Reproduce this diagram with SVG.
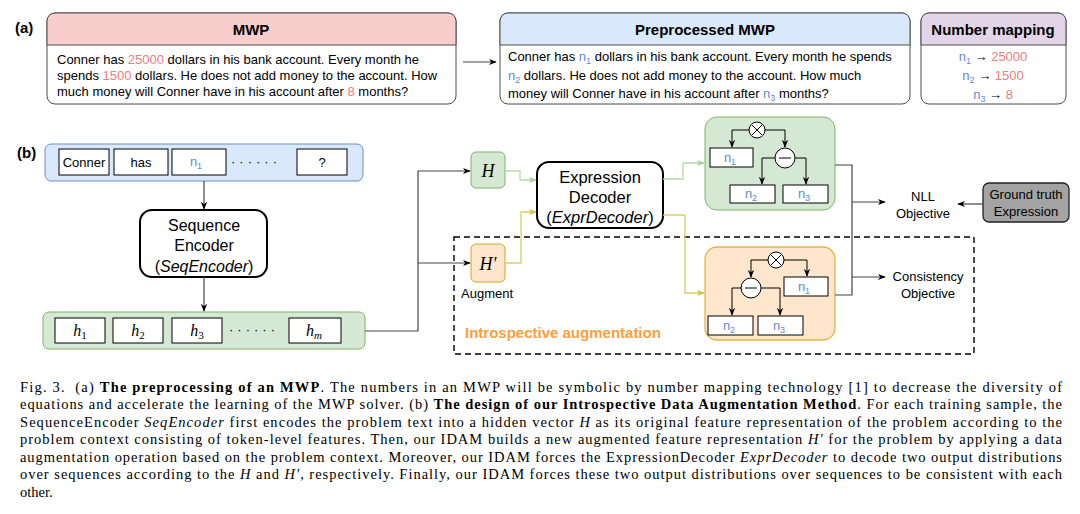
<svg xmlns="http://www.w3.org/2000/svg" width="1080" height="514" viewBox="0 0 1080 514">
<style>
text{font-family:"Liberation Sans",Arial,sans-serif;fill:#000}
.lbl{font-size:15px;font-weight:bold}
.hdr{font-size:15px;font-weight:bold;text-anchor:middle}
.body{font-size:13px}
.red{fill:#f07c7c}
.blu{fill:#5f8ad6}
.tok{fill:#fff;stroke:#000;stroke-width:1}
.math{font-family:"Liberation Serif","Times New Roman",serif;font-style:italic}
.mid{text-anchor:middle}
.ln{fill:none;stroke:#000;stroke-width:1}
.lg{fill:none;stroke:#b7d9a8;stroke-width:1.3}
.yl{fill:none;stroke:#d8cf5a;stroke-width:1.3}
.gr{fill:none;stroke:#444;stroke-width:1.2}
.cap{font-family:"Liberation Serif","Times New Roman",serif;font-size:14.5px}
.b{font-weight:bold}
.i{font-style:italic}
</style>
<defs>
<marker id="ah" viewBox="0 0 10 10" refX="9" refY="5" markerWidth="8" markerHeight="8" markerUnits="userSpaceOnUse" orient="auto"><path d="M0,1 L10,5 L0,9 L3,5 z" fill="#000"/></marker>
<marker id="ahg" viewBox="0 0 10 10" refX="9" refY="5" markerWidth="8" markerHeight="8" markerUnits="userSpaceOnUse" orient="auto"><path d="M0,1 L10,5 L0,9 L3,5 z" fill="#a9cf98"/></marker>
<marker id="ahy" viewBox="0 0 10 10" refX="9" refY="5" markerWidth="8" markerHeight="8" markerUnits="userSpaceOnUse" orient="auto"><path d="M0,1 L10,5 L0,9 L3,5 z" fill="#cfc24a"/></marker>
</defs>
<rect width="1080" height="514" fill="#fff"/>

<text class="lbl" x="15" y="33">(a)</text>
<text class="lbl" x="17" y="158">(b)</text>

<g id="mwp">
<rect x="47" y="13" width="409" height="91" rx="8" fill="#fff" stroke="#4d4d4d"/>
<path d="M47,45 V21 a8,8 0 0 1 8,-8 H448 a8,8 0 0 1 8,8 V45 Z" fill="#f8cecc" stroke="#4d4d4d"/>
<text class="hdr" x="251" y="35">MWP</text>
<text class="body" x="57" y="64">Conner has <tspan class="red">25000</tspan> dollars in his bank account. Every month he</text>
<text class="body" x="57" y="80">spends <tspan class="red">1500</tspan> dollars. He does not add money to the account. How</text>
<text class="body" x="57" y="96">much money will Conner have in his account after <tspan class="red">8</tspan> months?</text>
</g>

<g id="preprocessed">
<rect x="500" y="13" width="410" height="91" rx="8" fill="#fff" stroke="#4d4d4d"/>
<path d="M500,45 V21 a8,8 0 0 1 8,-8 H902 a8,8 0 0 1 8,8 V45 Z" fill="#dae8fc" stroke="#4d4d4d"/>
<text class="hdr" x="705" y="35">Preprocessed MWP</text>
<text class="body" x="508" y="61">Conner has <tspan class="blu">n<tspan font-size="9" dy="3">1</tspan></tspan><tspan dy="-3"> dollars in his bank account. Every month he spends</tspan></text>
<text class="body" x="508" y="80"><tspan class="blu">n<tspan font-size="9" dy="3">2</tspan></tspan><tspan dy="-3"> dollars. He does not add money to the account. How much</tspan></text>
<text class="body" x="508" y="98">money will Conner have in his account after <tspan class="blu">n<tspan font-size="9" dy="3">3</tspan></tspan><tspan dy="-3"> months?</tspan></text>
</g>

<g id="number-mapping">
<rect x="921" y="13" width="145" height="91" rx="8" fill="#fff" stroke="#4d4d4d"/>
<path d="M921,45 V21 a8,8 0 0 1 8,-8 H1058 a8,8 0 0 1 8,8 V45 Z" fill="#e1d5e7" stroke="#4d4d4d"/>
<text class="hdr" x="993" y="35">Number mapping</text>
<text class="body mid" x="993" y="61"><tspan class="blu">n<tspan font-size="9" dy="3">1</tspan></tspan><tspan dy="-3"> → </tspan><tspan class="red">25000</tspan></text>
<text class="body mid" x="993" y="80"><tspan class="blu">n<tspan font-size="9" dy="3">2</tspan></tspan><tspan dy="-3"> → </tspan><tspan class="red">1500</tspan></text>
<text class="body mid" x="993" y="99"><tspan class="blu">n<tspan font-size="9" dy="3">3</tspan></tspan><tspan dy="-3"> → </tspan><tspan class="red">8</tspan></text>
</g>

<g id="token-sequence">
<rect x="45" y="144" width="318" height="37" rx="6" fill="#dae8fc" stroke="#6c8ebf"/>
<rect class="tok" x="59" y="149" width="50" height="26"/>
<text class="body mid" x="84" y="167">Conner</text>
<rect class="tok" x="114" y="149" width="54" height="26"/>
<text class="body mid" x="141" y="167">has</text>
<rect class="tok" x="172" y="149" width="54" height="26"/>
<text class="body mid blu" x="196" y="166">n<tspan font-size="9" dy="3">1</tspan></text>
<text class="body" x="231" y="166" letter-spacing="4">······</text>
<rect class="tok" x="297" y="149" width="50" height="26"/>
<text class="body mid" x="322" y="167">?</text>
</g>

<g id="seq-encoder">
<rect x="140" y="210" width="127" height="67" rx="12" fill="#fff" stroke="#000" stroke-width="2"/>
<text class="mid" x="204" y="231" font-size="16">Sequence</text>
<text class="mid" x="204" y="251" font-size="16">Encoder</text>
<text class="mid" x="204" y="272" font-size="16">(<tspan font-style="italic">SeqEncoder</tspan>)</text>
</g>

<g id="hidden-sequence">
<rect x="43" y="312" width="322" height="37" rx="6" fill="#d5e8d4" stroke="#82b366"/>
<rect class="tok" x="55" y="318" width="50" height="25"/>
<text class="math mid" x="80" y="336" font-size="16">h<tspan font-size="11" dy="3" font-style="normal">1</tspan></text>
<rect class="tok" x="113" y="318" width="50" height="25"/>
<text class="math mid" x="138" y="336" font-size="16">h<tspan font-size="11" dy="3" font-style="normal">2</tspan></text>
<rect class="tok" x="172" y="318" width="50" height="25"/>
<text class="math mid" x="197" y="336" font-size="16">h<tspan font-size="11" dy="3" font-style="normal">3</tspan></text>
<text class="body" x="229" y="334" letter-spacing="4">······</text>
<rect class="tok" x="289" y="318" width="52" height="25"/>
<text class="math mid" x="314" y="336" font-size="16">h<tspan font-size="11" dy="3">m</tspan></text>
</g>

<g id="introspective-augmentation">
<rect x="454" y="237" width="520" height="117" fill="none" stroke="#000" stroke-width="1.4" stroke-dasharray="6,4"/>
<text x="465" y="338" font-size="15" font-weight="bold" style="fill:#f9a03c">Introspective augmentation</text>
</g>

<g id="H">
<rect x="471" y="152" width="34" height="36" rx="5" fill="#d5e8d4" stroke="#82b366"/>
<text class="math mid" x="488" y="177" font-size="18">H</text>
</g>

<g id="H-prime">
<rect x="471" y="244" width="34" height="38" rx="5" fill="#ffe6cc" stroke="#d6a41e"/>
<text class="math mid" x="488" y="270" font-size="18">H′</text>
<text class="body" x="461" y="298">Augment</text>
</g>

<g id="expr-decoder">
<rect x="537" y="162" width="126" height="66" rx="12" fill="#fff" stroke="#000" stroke-width="2"/>
<text class="mid" x="600" y="183" font-size="16.5">Expression</text>
<text class="mid" x="600" y="203" font-size="16.5">Decoder</text>
<text class="mid" x="600" y="223" font-size="16.5">(<tspan font-style="italic">ExprDecoder</tspan>)</text>
</g>

<g id="tree-original">
<rect x="705" y="117" width="130" height="93" rx="12" fill="#d5e8d4" stroke="#82b366"/>
<circle cx="757" cy="130" r="8" fill="#fff" stroke="#000"/>
<path class="ln" d="M752,125 L762,135 M762,125 L752,135"/>
<circle cx="785" cy="158" r="10" fill="#fff" stroke="#000"/>
<path class="ln" d="M779,158 H791"/>
<rect class="tok" x="710" y="148" width="43" height="19"/>
<text class="body mid blu" x="730" y="162">n<tspan font-size="9" dy="3">1</tspan></text>
<rect class="tok" x="730" y="185" width="45" height="18"/>
<text class="body mid blu" x="751" y="198">n<tspan font-size="9" dy="3">2</tspan></text>
<rect class="tok" x="783" y="185" width="45" height="18"/>
<text class="body mid blu" x="804" y="198">n<tspan font-size="9" dy="3">3</tspan></text>
</g>

<g id="tree-augmented">
<rect x="705" y="247" width="130" height="93" rx="12" fill="#ffe6cc" stroke="#e0b848" stroke-width="1.3"/>
<circle cx="776" cy="260" r="8" fill="#fff" stroke="#000"/>
<path class="ln" d="M771,255 L781,265 M781,255 L771,265"/>
<circle cx="751" cy="288" r="10" fill="#fff" stroke="#000"/>
<path class="ln" d="M745,288 H757"/>
<rect class="tok" x="784" y="277" width="44" height="19"/>
<text class="body mid blu" x="804" y="291">n<tspan font-size="9" dy="3">1</tspan></text>
<rect class="tok" x="708" y="316" width="45" height="19"/>
<text class="body mid blu" x="729" y="330">n<tspan font-size="9" dy="3">2</tspan></text>
<rect class="tok" x="758" y="316" width="45" height="19"/>
<text class="body mid blu" x="779" y="330">n<tspan font-size="9" dy="3">3</tspan></text>
</g>

<g id="nll-objective">
<text class="body mid" x="923" y="201">NLL</text>
<text class="body mid" x="923" y="218">Objective</text>
</g>

<g id="consistency-objective">
<text class="body mid" x="928" y="281">Consistency</text>
<text class="body mid" x="928" y="298">Objective</text>
</g>

<g id="ground-truth">
<rect x="983" y="183" width="86" height="39" rx="6" fill="#a3a3a3" stroke="#222" stroke-width="1.3"/>
<text class="body mid" x="1026" y="199">Ground truth</text>
<text class="body mid" x="1026" y="216">Expression</text>
</g>

<g id="connectors">
<path class="gr" d="M463,62 H496" marker-end="url(#ah)"/>
<path class="gr" d="M204,181 V209" marker-end="url(#ah)"/>
<path class="gr" d="M204,277 V311" marker-end="url(#ah)"/>
<path class="gr" d="M365,331 H418 V171 H470" marker-end="url(#ah)"/>
<path class="gr" d="M418,263 H470" marker-end="url(#ah)"/>
<path class="lg" d="M505,171 H520 V180 H536" marker-end="url(#ahg)"/>
<path class="yl" d="M505,263 H521 V212 H536" marker-end="url(#ahy)"/>
<path class="lg" d="M663,179 H683 V163 H704" marker-end="url(#ahg)"/>
<path class="yl" d="M663,215 H685 V293 H704" marker-end="url(#ahy)"/>
<path class="gr" d="M835,165 H852 V295 H835"/>
<path class="gr" d="M852,202 H885" marker-end="url(#ah)"/>
<path class="gr" d="M852,277 H885" marker-end="url(#ah)"/>
<path class="gr" d="M983,204 H958" marker-end="url(#ah)"/>
<path class="ln" d="M749,130 H732 V147" marker-end="url(#ah)"/>
<path class="ln" d="M765,130 H785 V147" marker-end="url(#ah)"/>
<path class="ln" d="M775,158 H762 V184" marker-end="url(#ah)"/>
<path class="ln" d="M795,158 H806 V184" marker-end="url(#ah)"/>
<path class="ln" d="M768,260 H751 V277" marker-end="url(#ah)"/>
<path class="ln" d="M784,260 H807 V276" marker-end="url(#ah)"/>
<path class="ln" d="M741,288 H732 V315" marker-end="url(#ah)"/>
<path class="ln" d="M761,288 H780 V315" marker-end="url(#ah)"/>
</g>

<g id="caption">
<text class="cap" x="20" y="392" textLength="1042" lengthAdjust="spacing">Fig. 3. &#160;(a) <tspan class="b">The preprocessing of an MWP</tspan>. The numbers in an MWP will be symbolic by number mapping technology [1] to decrease the diversity of</text>
<text class="cap" x="20" y="409" textLength="1042" lengthAdjust="spacing">equations and accelerate the learning of the MWP solver. (b) <tspan class="b">The design of our Introspective Data Augmentation Method</tspan>. For each training sample, the</text>
<text class="cap" x="20" y="427" textLength="1042" lengthAdjust="spacing">SequenceEncoder <tspan class="i">SeqEncoder</tspan> first encodes the problem text into a hidden vector <tspan class="i">H</tspan> as its original feature representation of the problem according to the</text>
<text class="cap" x="20" y="444" textLength="1042" lengthAdjust="spacing">problem context consisting of token-level features. Then, our IDAM builds a new augmented feature representation <tspan class="i">H′</tspan> for the problem by applying a data</text>
<text class="cap" x="20" y="462" textLength="1042" lengthAdjust="spacing">augmentation operation based on the problem context. Moreover, our IDAM forces the ExpressionDecoder <tspan class="i">ExprDecoder</tspan> to decode two output distributions</text>
<text class="cap" x="20" y="479" textLength="1042" lengthAdjust="spacing">over sequences according to the <tspan class="i">H</tspan> and <tspan class="i">H′</tspan>, respectively. Finally, our IDAM forces these two output distributions over sequences to be consistent with each</text>
<text class="cap" x="20" y="497">other.</text>
</g>
</svg>
